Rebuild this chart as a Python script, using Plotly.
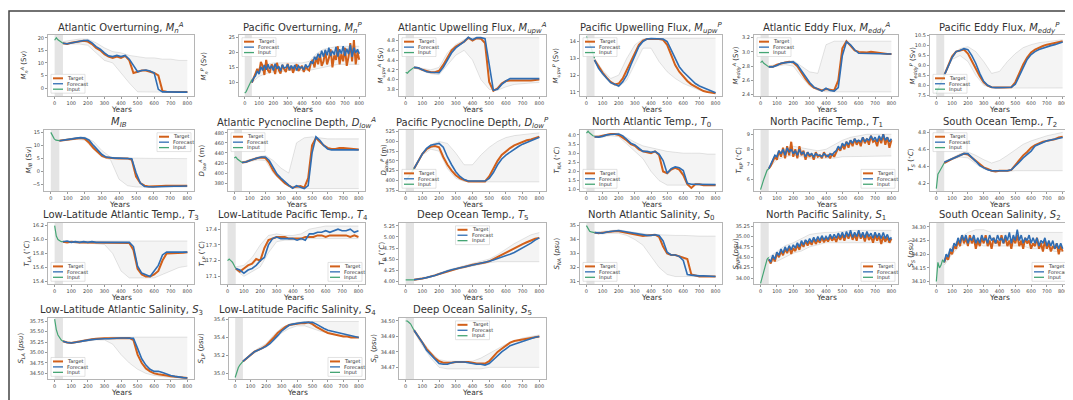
import plotly.graph_objects as go

W, H = 1073, 400

# ---------------- data ----------------
YEARS = list(range(50, 801, 25))                 # target / forecast sample years
YEARS_FINE = [50 + 12.5 * k for k in range(61)]  # finer sampling for noisy series
INPUT_YEARS = [0, 10, 20, 30, 40, 50]            # input window
ENS_YEARS = list(range(50, 801, 50))             # ensemble envelope years

amoc_a_input = [19.0, 20.0, 19.2, 18.6, 18.1, 17.8]
amoc_a_target = [17.8, 17.5, 18.0, 18.2, 18.5, 18.8, 18.5, 17.5, 16.0, 15.0, 13.5, 12.5, 12.0, 12.5, 12.0, 12.8, 11.0, 6.0, 6.5, 7.0, 7.0, 6.5, 6.0, 5.0, -1.2, -1.5, -1.5, -1.5, -1.5, -1.5, -1.6]
amoc_a_forecast = [17.8, 17.6, 17.9, 18.3, 18.6, 18.9, 19.0, 18.0, 16.5, 15.5, 14.0, 12.8, 12.5, 13.0, 12.5, 13.0, 11.5, 9.0, 6.5, 7.0, 7.2, 6.8, 6.0, -0.5, -1.5, -1.5, -1.6, -1.6, -1.6, -1.6, -1.6]
amoc_a_lo = [17.5, 17.5, 17.5, 17.0, 14.0, 11.0, 10.0, 6.0, 2.0, -1.5, -1.6, -1.6, -1.6, -1.6, -1.6, -1.6]
amoc_a_hi = [18.5, 19.0, 19.5, 19.5, 18.0, 16.0, 14.5, 14.0, 13.0, 12.5, 12.0, 12.0, 11.5, 11.5, 11.0, 11.0]

amoc_p_input = [6.5, 7.0, 8.0, 9.0, 10.0, 11.0]
amoc_p_target = [10.0, 11.5, 12.8, 14.5, 13.0, 16.8, 15.5, 12.5, 17.5, 14.0, 13.2, 16.0, 15.0, 12.8, 16.5, 14.2, 13.0, 15.8, 14.5, 13.5, 16.2, 14.0, 15.5, 13.2, 15.0, 16.0, 13.8, 14.8, 15.5, 13.5, 15.2, 14.5, 14.0, 16.5, 17.5, 15.0, 18.5, 16.0, 19.5, 15.5, 17.0, 20.5, 16.0, 18.0, 21.0, 15.0, 19.0, 17.5, 22.0, 16.0, 19.5, 17.0, 21.5, 15.5, 18.5, 23.0, 17.0, 24.0, 16.0, 20.0, 17.5]
amoc_p_forecast = [10.0, 11.5, 12.2, 13.8, 12.8, 15.2, 14.0, 15.8, 14.2, 16.0, 14.5, 15.5, 14.0, 16.2, 14.6, 15.4, 13.8, 15.9, 14.8, 15.0, 16.0, 14.2, 15.6, 14.5, 15.8, 14.0, 15.5, 14.8, 15.2, 14.2, 16.0, 15.0, 15.5, 17.0, 16.2, 18.5, 17.5, 19.5, 18.2, 20.5, 18.5, 20.8, 19.0, 21.5, 18.8, 20.5, 19.2, 21.8, 18.6, 21.0, 19.5, 22.0, 18.8, 21.2, 19.4, 22.5, 18.5, 21.5, 19.8, 21.0, 19.5]
amoc_p_lo = [10.0, 12.0, 13.0, 13.5, 13.5, 14.0, 14.0, 14.0, 14.0, 14.5, 15.0, 15.5, 16.0, 16.0, 16.0, 16.0]
amoc_p_hi = [11.0, 15.0, 16.0, 16.5, 16.5, 16.5, 16.5, 16.5, 17.0, 19.5, 21.0, 21.5, 22.0, 22.0, 22.0, 22.0]

upw_a_input = [4.15, 4.13, 4.17, 4.20, 4.23, 4.25]
upw_a_target = [4.25, 4.24, 4.20, 4.17, 4.15, 4.15, 4.18, 4.30, 4.45, 4.60, 4.68, 4.73, 4.78, 4.86, 4.80, 4.85, 4.84, 4.75, 3.95, 3.77, 3.82, 3.92, 3.97, 3.98, 3.98, 3.97, 3.97, 3.98, 3.98, 3.99, 4.00]
upw_a_forecast = [4.25, 4.24, 4.20, 4.16, 4.15, 4.14, 4.14, 4.25, 4.40, 4.55, 4.65, 4.72, 4.78, 4.87, 4.82, 4.86, 4.86, 4.84, 4.30, 3.78, 3.80, 3.90, 3.97, 4.02, 4.02, 4.02, 4.02, 4.01, 4.01, 4.01, 4.02]
upw_a_lo = [4.24, 4.18, 4.12, 4.10, 4.30, 4.50, 4.60, 4.40, 4.00, 3.80, 3.78, 3.85, 3.90, 3.92, 3.93, 3.94]
upw_a_hi = [4.26, 4.23, 4.20, 4.25, 4.55, 4.72, 4.82, 4.86, 4.86, 4.86, 4.86, 4.86, 4.86, 4.86, 4.86, 4.86]

upw_p_input = [14.3, 14.1, 13.9, 13.6, 13.3, 13.0]
upw_p_target = [12.9, 12.5, 12.15, 11.85, 11.6, 11.45, 11.5, 11.8, 12.3, 12.9, 13.4, 13.8, 14.05, 14.15, 14.15, 14.15, 14.15, 14.1, 13.8, 13.2, 12.6, 12.2, 11.9, 11.65, 11.45, 11.3, 11.15, 11.05, 11.0, 10.95, 10.92]
upw_p_forecast = [12.9, 12.4, 12.1, 11.8, 11.55, 11.45, 11.35, 11.6, 12.0, 12.6, 13.2, 13.7, 14.0, 14.15, 14.18, 14.18, 14.18, 14.15, 14.0, 13.5, 12.9, 12.5, 12.2, 11.95, 11.7, 11.5, 11.35, 11.25, 11.15, 11.05, 10.95]
upw_p_lo = [12.8, 12.0, 11.5, 11.3, 11.7, 12.7, 13.6, 13.6, 12.8, 12.2, 11.8, 11.5, 11.3, 11.1, 11.0, 10.95]
upw_p_hi = [13.0, 12.3, 11.8, 12.0, 13.0, 13.8, 14.15, 14.2, 14.2, 14.2, 14.2, 14.2, 14.2, 14.2, 14.2, 14.2]

eddy_a_input = [2.85, 2.87, 2.84, 2.82, 2.80, 2.79]
eddy_a_target = [2.79, 2.79, 2.82, 2.84, 2.85, 2.86, 2.85, 2.80, 2.70, 2.62, 2.55, 2.50, 2.48, 2.46, 2.48, 2.47, 2.46, 2.60, 3.05, 3.15, 3.08, 3.02, 3.00, 2.99, 2.99, 3.00, 2.99, 2.98, 2.98, 2.97, 2.97]
eddy_a_forecast = [2.79, 2.79, 2.81, 2.84, 2.85, 2.86, 2.86, 2.82, 2.74, 2.65, 2.57, 2.51, 2.48, 2.45, 2.49, 2.46, 2.45, 2.50, 2.95, 3.14, 3.10, 3.03, 2.98, 2.98, 2.97, 2.97, 2.97, 2.97, 2.97, 2.97, 2.97]
eddy_a_lo = [2.78, 2.80, 2.82, 2.80, 2.65, 2.52, 2.46, 2.44, 2.44, 2.44, 2.44, 2.44, 2.44, 2.44, 2.44, 2.44]
eddy_a_hi = [2.80, 2.83, 2.86, 2.88, 2.80, 2.72, 2.70, 3.10, 3.15, 3.15, 3.15, 3.15, 3.15, 3.15, 3.15, 3.15]

eddy_p_input = [7.6, 7.8, 8.0, 8.15, 8.3, 8.5]
eddy_p_target = [8.5, 9.0, 9.45, 9.7, 9.75, 9.8, 9.6, 9.2, 8.8, 8.45, 8.15, 7.98, 7.9, 7.88, 7.88, 7.88, 7.88, 7.9, 8.15, 8.6, 9.05, 9.4, 9.65, 9.8, 9.9, 9.98, 10.05, 10.1, 10.12, 10.18, 10.22]
eddy_p_forecast = [8.5, 9.0, 9.4, 9.7, 9.75, 9.85, 9.8, 9.5, 9.1, 8.6, 8.2, 8.0, 7.9, 7.88, 7.88, 7.88, 7.9, 7.9, 8.05, 8.45, 8.9, 9.3, 9.55, 9.7, 9.8, 9.88, 9.95, 10.0, 10.05, 10.1, 10.18]
eddy_p_lo = [8.5, 9.3, 9.5, 9.2, 8.5, 8.0, 7.88, 7.86, 7.86, 7.86, 7.86, 7.86, 7.86, 7.86, 7.86, 7.86]
eddy_p_hi = [8.6, 9.55, 9.85, 9.95, 9.7, 9.2, 8.6, 8.7, 9.2, 9.6, 9.9, 10.05, 10.15, 10.2, 10.25, 10.3]

mib_input = [15.0, 13.5, 12.5, 12.0, 11.8, 11.8]
mib_target = [11.8, 12.0, 12.2, 12.5, 12.8, 12.8, 12.5, 11.0, 9.0, 7.5, 6.0, 5.3, 5.1, 5.1, 5.0, 5.0, 5.0, 4.5, -2.0, -4.5, -5.5, -5.8, -5.8, -5.7, -5.6, -5.5, -5.5, -5.5, -5.5, -5.5, -5.5]
mib_forecast = [11.8, 12.0, 12.1, 12.5, 12.8, 13.0, 12.8, 12.0, 10.0, 8.2, 6.5, 5.5, 5.2, 5.1, 5.1, 5.0, 5.0, 4.9, -0.5, -4.5, -5.8, -6.0, -6.0, -5.9, -5.8, -5.8, -5.8, -5.7, -5.7, -5.7, -5.6]
mib_lo = [11.8, 12.0, 12.3, 12.0, 8.5, 5.5, 4.5, -3.0, -5.5, -6.0, -6.0, -6.0, -6.0, -6.0, -6.0, -6.0]
mib_hi = [12.0, 12.5, 13.0, 13.2, 11.5, 8.0, 5.5, 5.2, 5.1, 5.0, 5.0, 5.0, 5.0, 4.9, 4.9, 4.9]

dlow_a_input = [430, 432, 428, 425, 422, 421]
dlow_a_target = [421, 422, 425, 428, 430, 431, 430, 420, 405, 395, 388, 380, 375, 371, 373, 374, 371, 390, 455, 470, 462, 455, 450, 448, 448, 450, 450, 449, 448, 448, 447]
dlow_a_forecast = [421, 422, 425, 428, 430, 432, 432, 425, 410, 398, 390, 382, 376, 370, 375, 372, 369, 375, 440, 472, 465, 455, 448, 446, 446, 446, 446, 446, 446, 446, 446]
dlow_a_lo = [420, 423, 426, 425, 400, 385, 373, 369, 369, 369, 369, 369, 369, 369, 369, 369]
dlow_a_hi = [422, 427, 432, 435, 425, 410, 400, 460, 470, 472, 470, 468, 468, 468, 468, 468]

dlow_p_input = [398, 404, 410, 417, 423, 430]
dlow_p_target = [430, 450, 468, 480, 486, 488, 485, 460, 440, 425, 413, 405, 400, 397, 397, 397, 397, 397, 410, 430, 450, 465, 475, 483, 490, 495, 500, 503, 505, 508, 512]
dlow_p_forecast = [430, 450, 468, 482, 490, 493, 495, 485, 460, 440, 422, 410, 402, 398, 398, 398, 398, 398, 405, 420, 440, 455, 465, 473, 480, 487, 493, 498, 502, 506, 511]
dlow_p_lo = [428, 465, 480, 475, 430, 405, 397, 396, 396, 396, 396, 396, 396, 396, 396, 396]
dlow_p_hi = [432, 472, 492, 500, 495, 470, 440, 440, 465, 485, 500, 510, 515, 518, 520, 522]

t0_input = [4.1, 4.2, 4.1, 4.0, 3.95, 3.93]
t0_target = [3.9, 3.9, 3.95, 4.0, 4.05, 4.05, 4.0, 3.85, 3.7, 3.5, 3.4, 3.2, 3.1, 3.05, 3.0, 3.1, 2.9, 2.0, 1.9, 2.1, 2.2, 2.1, 1.8, 1.3, 1.1, 1.3, 1.3, 1.25, 1.25, 1.25, 1.25]
t0_forecast = [3.9, 3.88, 3.92, 4.0, 4.02, 4.05, 4.05, 3.95, 3.75, 3.55, 3.45, 3.25, 3.1, 3.1, 3.05, 3.1, 2.95, 2.6, 1.9, 2.15, 2.25, 2.2, 2.05, 1.35, 1.3, 1.3, 1.3, 1.3, 1.3, 1.3, 1.28]
t0_lo = [3.88, 3.88, 3.95, 3.9, 3.5, 3.1, 2.7, 2.0, 1.5, 1.25, 1.25, 1.25, 1.25, 1.25, 1.25, 1.25]
t0_hi = [3.95, 4.0, 4.08, 4.1, 3.85, 3.6, 3.4, 3.3, 3.2, 3.1, 3.05, 3.0, 3.0, 3.0, 2.95, 2.95]

t1_input = [5.3, 5.7, 6.0, 6.3, 6.6, 6.7]
t1_target = [6.7, 6.9, 7.2, 7.5, 7.3, 7.9, 7.5, 8.1, 7.4, 8.2, 7.6, 8.5, 7.5, 8.0, 7.4, 8.2, 7.6, 7.9, 7.3, 7.8, 7.5, 7.7, 7.3, 7.8, 7.5, 7.6, 7.4, 7.8, 7.5, 7.6, 7.4, 7.7, 7.5, 7.8, 8.1, 7.9, 8.3, 8.0, 8.5, 8.1, 8.6, 8.2, 8.7, 8.3, 8.6, 8.2, 8.8, 8.4, 8.7, 8.3, 8.9, 8.5, 8.6, 8.2, 8.8, 8.4, 9.0, 8.3, 8.8, 8.1, 8.6]
t1_forecast = [6.7, 7.0, 7.3, 7.6, 7.5, 7.9, 7.7, 8.0, 7.6, 8.1, 7.8, 8.0, 7.7, 7.9, 7.6, 8.0, 7.7, 7.8, 7.5, 7.8, 7.6, 7.7, 7.5, 7.7, 7.6, 7.6, 7.5, 7.7, 7.6, 7.5, 7.7, 7.6, 7.8, 7.9, 8.2, 8.0, 8.4, 8.2, 8.5, 8.3, 8.6, 8.4, 8.7, 8.5, 8.6, 8.5, 8.8, 8.5, 8.7, 8.6, 8.9, 8.6, 8.8, 8.5, 8.9, 8.6, 9.0, 8.6, 8.8, 8.5, 8.7]
t1_lo = [6.7, 7.3, 7.5, 7.6, 7.5, 7.4, 7.4, 7.4, 7.4, 7.5, 7.5, 7.55, 7.55, 7.55, 7.55, 7.55]
t1_hi = [6.8, 7.7, 8.0, 8.2, 8.1, 8.0, 7.9, 8.0, 8.3, 8.6, 8.8, 8.9, 9.0, 9.0, 9.0, 9.0]

t2_input = [4.14, 4.31, 4.34, 4.37, 4.40, 4.44]
t2_target = [4.44, 4.47, 4.49, 4.51, 4.53, 4.55, 4.54, 4.50, 4.46, 4.42, 4.39, 4.37, 4.35, 4.34, 4.35, 4.35, 4.35, 4.36, 4.42, 4.48, 4.53, 4.57, 4.62, 4.65, 4.67, 4.69, 4.70, 4.71, 4.72, 4.74, 4.75]
t2_forecast = [4.45, 4.47, 4.49, 4.51, 4.53, 4.55, 4.55, 4.51, 4.46, 4.41, 4.38, 4.36, 4.35, 4.35, 4.35, 4.35, 4.35, 4.36, 4.40, 4.45, 4.50, 4.54, 4.58, 4.64, 4.66, 4.68, 4.70, 4.71, 4.72, 4.73, 4.74]
t2_lo = [4.44, 4.48, 4.51, 4.50, 4.43, 4.37, 4.35, 4.34, 4.34, 4.35, 4.35, 4.35, 4.35, 4.35, 4.35, 4.35]
t2_hi = [4.46, 4.50, 4.55, 4.57, 4.53, 4.48, 4.44, 4.47, 4.53, 4.60, 4.66, 4.70, 4.73, 4.76, 4.78, 4.80]

t3_input = [16.2, 16.05, 16.0, 15.98, 15.97, 15.97]
t3_target = [15.97, 15.96, 15.97, 15.96, 15.96, 15.96, 15.96, 15.96, 15.96, 15.96, 15.96, 15.96, 15.96, 15.96, 15.96, 15.96, 15.95, 15.85, 15.58, 15.50, 15.47, 15.47, 15.50, 15.55, 15.70, 15.80, 15.80, 15.81, 15.81, 15.81, 15.82]
t3_forecast = [15.97, 15.98, 15.96, 15.97, 15.96, 15.97, 15.96, 15.97, 15.96, 15.96, 15.96, 15.96, 15.96, 15.96, 15.96, 15.96, 15.96, 15.90, 15.62, 15.52, 15.50, 15.47, 15.55, 15.63, 15.78, 15.82, 15.82, 15.82, 15.82, 15.82, 15.82]
t3_lo = [15.96, 15.95, 15.95, 15.95, 15.94, 15.93, 15.80, 15.55, 15.45, 15.45, 15.45, 15.45, 15.50, 15.55, 15.60, 15.62]
t3_hi = [15.98, 15.98, 15.98, 15.98, 15.98, 15.98, 15.98, 15.98, 15.98, 15.98, 15.98, 15.98, 15.98, 15.98, 15.98, 15.98]

t4_input = [17.20, 17.21, 17.20, 17.19, 17.17, 17.15]
t4_target = [17.15, 17.13, 17.15, 17.17, 17.18, 17.21, 17.20, 17.28, 17.33, 17.34, 17.35, 17.35, 17.35, 17.34, 17.34, 17.34, 17.34, 17.35, 17.35, 17.35, 17.36, 17.36, 17.35, 17.36, 17.36, 17.36, 17.36, 17.36, 17.35, 17.36, 17.35]
t4_forecast = [17.15, 17.14, 17.12, 17.14, 17.15, 17.17, 17.20, 17.22, 17.30, 17.34, 17.35, 17.34, 17.34, 17.34, 17.34, 17.33, 17.34, 17.33, 17.37, 17.37, 17.38, 17.38, 17.39, 17.38, 17.39, 17.40, 17.39, 17.39, 17.40, 17.38, 17.39]
t4_lo = [17.14, 17.10, 17.13, 17.16, 17.25, 17.32, 17.33, 17.33, 17.33, 17.34, 17.34, 17.34, 17.34, 17.34, 17.34, 17.34]
t4_hi = [17.16, 17.17, 17.22, 17.30, 17.36, 17.37, 17.36, 17.36, 17.37, 17.40, 17.41, 17.42, 17.42, 17.42, 17.42, 17.42]

t5_input = [4.03, 4.03, 4.03, 4.03, 4.03, 4.03]
t5_target = [4.03, 4.04, 4.06, 4.08, 4.10, 4.13, 4.16, 4.19, 4.22, 4.25, 4.28, 4.30, 4.32, 4.35, 4.37, 4.39, 4.40, 4.42, 4.45, 4.50, 4.55, 4.60, 4.65, 4.70, 4.75, 4.80, 4.84, 4.88, 4.92, 4.96, 4.98]
t5_forecast = [4.03, 4.04, 4.06, 4.08, 4.10, 4.13, 4.16, 4.20, 4.23, 4.26, 4.28, 4.30, 4.32, 4.35, 4.36, 4.38, 4.40, 4.43, 4.45, 4.48, 4.51, 4.54, 4.57, 4.61, 4.65, 4.70, 4.75, 4.80, 4.86, 4.93, 4.98]
t5_lo = [4.03, 4.05, 4.09, 4.15, 4.20, 4.26, 4.30, 4.34, 4.38, 4.42, 4.44, 4.44, 4.44, 4.44, 4.44, 4.44]
t5_hi = [4.04, 4.08, 4.12, 4.18, 4.25, 4.30, 4.35, 4.40, 4.45, 4.50, 4.60, 4.72, 4.85, 4.95, 5.05, 5.10]

s0_input = [35.0, 34.8, 34.6, 34.55, 34.5, 34.5]
s0_target = [34.5, 34.45, 34.5, 34.55, 34.55, 34.6, 34.6, 34.55, 34.5, 34.45, 34.35, 34.3, 34.25, 34.3, 34.3, 34.35, 34.2, 33.5, 33.0, 32.9, 32.9, 32.8, 32.7, 32.6, 31.5, 31.4, 31.35, 31.35, 31.35, 31.35, 31.35]
s0_forecast = [34.5, 34.45, 34.45, 34.55, 34.6, 34.6, 34.65, 34.6, 34.55, 34.5, 34.4, 34.35, 34.3, 34.3, 34.3, 34.35, 34.3, 33.9, 33.1, 32.9, 32.9, 32.8, 32.5, 31.5, 31.45, 31.4, 31.4, 31.4, 31.38, 31.38, 31.35]
s0_lo = [34.45, 34.4, 34.45, 34.45, 34.3, 34.0, 33.6, 32.8, 32.0, 31.5, 31.35, 31.35, 31.35, 31.35, 31.35, 31.35]
s0_hi = [34.55, 34.6, 34.65, 34.7, 34.6, 34.5, 34.4, 34.35, 34.35, 34.3, 34.3, 34.3, 34.25, 34.25, 34.25, 34.25]

s1_input = [33.87, 34.0, 34.15, 34.3, 34.45, 34.5]
s1_target = [34.45, 34.35, 34.5, 34.4, 34.6, 34.5, 34.65, 34.55, 34.7, 34.6, 34.75, 34.58, 34.72, 34.65, 34.8, 34.68, 34.85, 34.75, 34.9, 34.78, 34.88, 34.8, 34.95, 34.82, 34.92, 34.85, 34.98, 34.86, 34.95, 34.88, 35.0, 34.9, 34.98, 34.87, 35.02, 34.92, 35.05, 34.9, 35.08, 34.95, 35.1, 34.92, 35.05, 34.9, 35.12, 34.95, 35.05, 34.88, 35.08, 34.92, 35.0, 34.85, 35.05, 34.9, 35.02, 34.82, 35.0, 34.88, 34.98, 34.85, 34.95]
s1_forecast = [34.45, 34.4, 34.55, 34.45, 34.62, 34.55, 34.7, 34.6, 34.75, 34.65, 34.78, 34.68, 34.8, 34.72, 34.85, 34.75, 34.9, 34.8, 34.92, 34.85, 34.95, 34.86, 34.98, 34.88, 35.0, 34.9, 35.02, 34.92, 35.0, 34.93, 35.05, 34.95, 35.05, 34.96, 35.08, 34.98, 35.1, 34.97, 35.12, 35.0, 35.15, 34.98, 35.1, 35.0, 35.15, 34.98, 35.1, 34.97, 35.12, 35.0, 35.08, 34.96, 35.1, 34.98, 35.08, 34.95, 35.1, 34.95, 35.05, 34.92, 34.98]
s1_lo = [34.4, 34.4, 34.5, 34.6, 34.65, 34.75, 34.8, 34.85, 34.85, 34.85, 34.85, 34.85, 34.85, 34.85, 34.85, 34.85]
s1_hi = [34.5, 34.65, 34.78, 34.85, 34.95, 35.05, 35.08, 35.1, 35.1, 35.12, 35.15, 35.15, 35.15, 35.15, 35.15, 35.15]

s2_input = [34.10, 34.17, 34.15, 34.16, 34.18, 34.17]
s2_target = [34.17, 34.19, 34.18, 34.21, 34.2, 34.23, 34.22, 34.25, 34.23, 34.27, 34.24, 34.26, 34.23, 34.27, 34.24, 34.26, 34.22, 34.25, 34.23, 34.26, 34.24, 34.27, 34.23, 34.25, 34.22, 34.26, 34.24, 34.25, 34.23, 34.27, 34.24, 34.26, 34.23, 34.25, 34.22, 34.26, 34.24, 34.27, 34.23, 34.25, 34.22, 34.26, 34.24, 34.25, 34.22, 34.24, 34.23, 34.26, 34.22, 34.24, 34.21, 34.25, 34.22, 34.24, 34.21, 34.23, 34.22, 34.24, 34.2, 34.23, 34.21]
s2_forecast = [34.17, 34.2, 34.19, 34.22, 34.21, 34.24, 34.23, 34.26, 34.24, 34.27, 34.25, 34.27, 34.24, 34.26, 34.25, 34.27, 34.24, 34.26, 34.24, 34.27, 34.25, 34.26, 34.24, 34.27, 34.25, 34.26, 34.24, 34.27, 34.25, 34.26, 34.24, 34.27, 34.25, 34.28, 34.24, 34.27, 34.25, 34.29, 34.25, 34.27, 34.24, 34.26, 34.25, 34.27, 34.24, 34.26, 34.24, 34.26, 34.23, 34.25, 34.24, 34.26, 34.23, 34.25, 34.23, 34.25, 34.22, 34.24, 34.22, 34.24, 34.22]
s2_lo = [34.16, 34.20, 34.23, 34.24, 34.24, 34.23, 34.23, 34.23, 34.23, 34.23, 34.23, 34.22, 34.22, 34.22, 34.21, 34.21]
s2_hi = [34.18, 34.23, 34.26, 34.28, 34.29, 34.29, 34.28, 34.28, 34.28, 34.28, 34.28, 34.28, 34.28, 34.28, 34.28, 34.28]

s3_input = [35.8, 35.55, 35.42, 35.35, 35.30, 35.27]
s3_target = [35.27, 35.24, 35.23, 35.25, 35.27, 35.28, 35.30, 35.32, 35.33, 35.34, 35.34, 35.34, 35.34, 35.35, 35.35, 35.35, 35.35, 35.30, 34.95, 34.75, 34.62, 34.55, 34.50, 34.48, 34.47, 34.45, 34.43, 34.42, 34.41, 34.40, 34.39]
s3_forecast = [35.27, 35.24, 35.23, 35.24, 35.26, 35.28, 35.30, 35.31, 35.32, 35.33, 35.33, 35.33, 35.34, 35.34, 35.35, 35.35, 35.35, 35.34, 35.10, 34.85, 34.70, 34.60, 34.55, 34.55, 34.52, 34.48, 34.45, 34.43, 34.41, 34.40, 34.39]
s3_lo = [35.26, 35.22, 35.25, 35.28, 35.30, 35.30, 35.20, 34.95, 34.75, 34.60, 34.50, 34.45, 34.42, 34.40, 34.39, 34.38]
s3_hi = [35.28, 35.25, 35.28, 35.32, 35.34, 35.36, 35.37, 35.37, 35.37, 35.37, 35.37, 35.37, 35.37, 35.37, 35.37, 35.37]

s4_input = [34.95, 35.02, 35.06, 35.09, 35.11, 35.13]
s4_target = [35.13, 35.17, 35.21, 35.24, 35.26, 35.28, 35.31, 35.35, 35.40, 35.45, 35.49, 35.52, 35.54, 35.55, 35.555, 35.56, 35.56, 35.57, 35.55, 35.52, 35.49, 35.47, 35.45, 35.44, 35.43, 35.42, 35.41, 35.41, 35.40, 35.40, 35.40]
s4_forecast = [35.13, 35.17, 35.21, 35.24, 35.26, 35.28, 35.30, 35.33, 35.37, 35.42, 35.47, 35.51, 35.54, 35.55, 35.56, 35.565, 35.57, 35.57, 35.57, 35.55, 35.52, 35.50, 35.48, 35.47, 35.46, 35.45, 35.44, 35.43, 35.42, 35.41, 35.40]
s4_lo = [35.13, 35.20, 35.25, 35.29, 35.36, 35.45, 35.50, 35.53, 35.53, 35.50, 35.47, 35.45, 35.43, 35.42, 35.41, 35.40]
s4_hi = [35.13, 35.22, 35.28, 35.33, 35.43, 35.51, 35.55, 35.57, 35.58, 35.58, 35.58, 35.58, 35.58, 35.58, 35.58, 35.58]

s5_input = [34.500, 34.500, 34.499, 34.498, 34.496, 34.494]
s5_target = [34.494, 34.490, 34.486, 34.482, 34.479, 34.476, 34.474, 34.473, 34.473, 34.473, 34.4735, 34.4735, 34.4735, 34.4735, 34.473, 34.4725, 34.4725, 34.4725, 34.474, 34.477, 34.480, 34.482, 34.484, 34.486, 34.487, 34.4875, 34.488, 34.4885, 34.489, 34.4895, 34.490]
s5_forecast = [34.494, 34.490, 34.486, 34.481, 34.478, 34.475, 34.4725, 34.472, 34.472, 34.473, 34.4735, 34.4735, 34.4735, 34.473, 34.4725, 34.472, 34.472, 34.4715, 34.4725, 34.475, 34.478, 34.480, 34.482, 34.484, 34.485, 34.486, 34.487, 34.488, 34.4885, 34.4895, 34.490]
s5_lo = [34.493, 34.484, 34.476, 34.470, 34.469, 34.469, 34.469, 34.469, 34.469, 34.470, 34.470, 34.470, 34.470, 34.470, 34.470, 34.470]
s5_hi = [34.495, 34.487, 34.480, 34.475, 34.474, 34.474, 34.474, 34.474, 34.476, 34.479, 34.482, 34.485, 34.487, 34.489, 34.490, 34.491]

TITLES = [
    "Atlantic Overturning, <i>M</i><sub><i>n</i></sub><sup><i>A</i></sup>",
    "Pacific Overturning, <i>M</i><sub><i>n</i></sub><sup><i>P</i></sup>",
    "Atlantic Upwelling Flux, <i>M</i><sub><i>upw</i></sub><sup><i>A</i></sup>",
    "Pacific Upwelling Flux, <i>M</i><sub><i>upw</i></sub><sup><i>P</i></sup>",
    "Atlantic Eddy Flux, <i>M</i><sub><i>eddy</i></sub><sup><i>A</i></sup>",
    "Pacific Eddy Flux, <i>M</i><sub><i>eddy</i></sub><sup><i>P</i></sup>",
    "<i>M</i><sub><i>IB</i></sub>",
    "Atlantic Pycnocline Depth, <i>D</i><sub><i>low</i></sub><sup><i>A</i></sup>",
    "Pacific Pycnocline Depth, <i>D</i><sub><i>low</i></sub><sup><i>P</i></sup>",
    "North Atlantic Temp., <i>T</i><sub>0</sub>",
    "North Pacific Temp., <i>T</i><sub>1</sub>",
    "South Ocean Temp., <i>T</i><sub>2</sub>",
    "Low-Latitude Atlantic Temp., <i>T</i><sub>3</sub>",
    "Low-Latitude Pacific Temp., <i>T</i><sub>4</sub>",
    "Deep Ocean Temp., <i>T</i><sub>5</sub>",
    "North Atlantic Salinity, <i>S</i><sub>0</sub>",
    "North Pacific Salinity, <i>S</i><sub>1</sub>",
    "South Ocean Salinity, <i>S</i><sub>2</sub>",
    "Low-Latitude Atlantic Salinity, <i>S</i><sub>3</sub>",
    "Low-Latitude Pacific Salinity, <i>S</i><sub>4</sub>",
    "Deep Ocean Salinity, <i>S</i><sub>5</sub>",
]

DEG = "(<sup>∘</sup><i>C</i>)"
PSU = "(<i>psu</i>)"
YLABELS = [
    "<i>M</i><sub><i>n</i></sub><sup><i>A</i></sup> (Sv)",
    "<i>M</i><sub><i>n</i></sub><sup><i>P</i></sup> (Sv)",
    "<i>M</i><sub><i>upw</i></sub><sup><i>A</i></sup> (Sv)",
    "<i>M</i><sub><i>upw</i></sub><sup><i>P</i></sup> (Sv)",
    "<i>M</i><sub><i>eddy</i></sub><sup><i>A</i></sup> (Sv)",
    "<i>M</i><sub><i>eddy</i></sub><sup><i>P</i></sup> (Sv)",
    "<i>M</i><sub><i>IB</i></sub> (Sv)",
    "<i>D</i><sub><i>low</i></sub><sup><i>A</i></sup> (m)",
    "<i>D</i><sub><i>low</i></sub><sup><i>P</i></sup> (m)",
    "<i>T</i><sub><i>NA</i></sub> " + DEG,
    "<i>T</i><sub><i>NP</i></sub> " + DEG,
    "<i>T</i><sub><i>S</i></sub> " + DEG,
    "<i>T</i><sub><i>LA</i></sub> " + DEG,
    "<i>T</i><sub><i>LP</i></sub> " + DEG,
    "<i>T</i><sub><i>D</i></sub> " + DEG,
    "<i>S</i><sub><i>NA</i></sub> " + PSU,
    "<i>S</i><sub><i>NP</i></sub> " + PSU,
    "<i>S</i><sub><i>S</i></sub> " + PSU,
    "<i>S</i><sub><i>LA</i></sub> " + PSU,
    "<i>S</i><sub><i>LP</i></sub> " + PSU,
    "<i>S</i><sub><i>D</i></sub> " + PSU,
]

SERIES = [
    (amoc_a_input, amoc_a_target, amoc_a_forecast, amoc_a_lo, amoc_a_hi),
    (amoc_p_input, amoc_p_target, amoc_p_forecast, amoc_p_lo, amoc_p_hi),
    (upw_a_input, upw_a_target, upw_a_forecast, upw_a_lo, upw_a_hi),
    (upw_p_input, upw_p_target, upw_p_forecast, upw_p_lo, upw_p_hi),
    (eddy_a_input, eddy_a_target, eddy_a_forecast, eddy_a_lo, eddy_a_hi),
    (eddy_p_input, eddy_p_target, eddy_p_forecast, eddy_p_lo, eddy_p_hi),
    (mib_input, mib_target, mib_forecast, mib_lo, mib_hi),
    (dlow_a_input, dlow_a_target, dlow_a_forecast, dlow_a_lo, dlow_a_hi),
    (dlow_p_input, dlow_p_target, dlow_p_forecast, dlow_p_lo, dlow_p_hi),
    (t0_input, t0_target, t0_forecast, t0_lo, t0_hi),
    (t1_input, t1_target, t1_forecast, t1_lo, t1_hi),
    (t2_input, t2_target, t2_forecast, t2_lo, t2_hi),
    (t3_input, t3_target, t3_forecast, t3_lo, t3_hi),
    (t4_input, t4_target, t4_forecast, t4_lo, t4_hi),
    (t5_input, t5_target, t5_forecast, t5_lo, t5_hi),
    (s0_input, s0_target, s0_forecast, s0_lo, s0_hi),
    (s1_input, s1_target, s1_forecast, s1_lo, s1_hi),
    (s2_input, s2_target, s2_forecast, s2_lo, s2_hi),
    (s3_input, s3_target, s3_forecast, s3_lo, s3_hi),
    (s4_input, s4_target, s4_forecast, s4_lo, s4_hi),
    (s5_input, s5_target, s5_forecast, s5_lo, s5_hi),
]

# ---------------- styling / layout ----------------
YAX = [
    ([-3.2, 21.2], 5, "d"), ([5.5, 25.8], 5, "d"), ([3.66, 4.92], 0.2, ".1f"),
    ([10.75, 14.4], 1, "d"), ([2.38, 3.24], 0.2, ".1f"), ([7.45, 10.55], 0.5, ".1f"),
    ([-7.6, 16.0], 5, "d"), ([364, 486], 20, "d"), ([372, 530], 25, "d"),
    ([0.92, 4.28], 0.5, ".1f"), ([5.2, 9.3], 1, "d"), ([4.11, 4.83], 0.2, ".1f"),
    ([15.36, 16.24], 0.2, ".1f"), ([17.05, 17.44], 0.1, ".1f"), ([3.93, 5.32], 0.25, ".2f"),
    ([30.8, 35.2], 1, "d"), ([33.85, 35.33], 0.25, ".2f"), ([34.09, 34.315], 0.05, ".2f"),
    ([34.36, 35.83], 0.25, ".2f"), ([34.93, 35.62], 0.2, ".1f"), ([34.4623, 34.502], 0.01, ".2f"),
]
LEG = ["ll", "ul", "ul", "ul", "ul", "ll",
       "ur", "ul", "ll", "ll", "lr", "ul",
       "ll", "lr", "uc", "ll", "lr", "lr",
       "ll", "lr", "uc"]

XDOM = [
    [(40, 186), (231, 357), (391, 538), (572, 714), (746, 890), (922, 1061)],
    [(36, 186), (220, 357), (391, 538), (572, 714), (746, 890), (922, 1061)],
    [(40, 186), (213, 357), (391, 538), (572, 714), (746, 890), (922, 1061)],
    [(40, 186), (221, 357), (391, 538)],
]
YDOM = [(25, 87), (121, 183), (215, 277), (311, 373)]
YLAB_X = [
    [16, 196, 373, 548, 728, 905],
    [21, 194, 376, 549, 731, 903],
    [18, 193, 373, 549, 728, 903],
    [13, 193, 366],
]

C_T = "#d2601a"
C_F = "#2f6db3"
C_I = "#45a574"
FONT = "DejaVu Sans"


def fx(p):
    return p / W


def fy(p):
    return 1 - p / H


fig = go.Figure()
layout = dict(
    width=W, height=H, margin=dict(l=0, r=0, t=0, b=0),
    paper_bgcolor="white", plot_bgcolor="white", showlegend=False,
    font=dict(family=FONT, color="#333"),
)
shapes = []
annotations = []

k = 0
for r, row in enumerate(XDOM):
    for c, (x0, x1) in enumerate(row):
        k += 1
        i = k - 1
        xa = "x" if k == 1 else f"x{k}"
        ya = "y" if k == 1 else f"y{k}"
        xkey = "xaxis" if k == 1 else f"xaxis{k}"
        ykey = "yaxis" if k == 1 else f"yaxis{k}"
        y0p, y1p = YDOM[r]
        yr, dt, tf = YAX[i]
        axcommon = dict(showline=True, mirror=True, linecolor="#b5b5b5", linewidth=1,
                        showgrid=False, zeroline=False, ticks="outside", ticklen=2,
                        tickcolor="#999", tickfont=dict(size=5, color="#444", family=FONT))
        layout[xkey] = dict(domain=[fx(x0), fx(x1)], range=[-40, 840], anchor=ya,
                            tickvals=[0, 100, 200, 300, 400, 500, 600, 700, 800], **axcommon)
        layout[ykey] = dict(domain=[fy(y1p), fy(y0p)], range=yr, anchor=xa, dtick=dt,
                            tick0=0, tickformat=tf, **axcommon)

        inp, tgt, fc, lo, hi = SERIES[i]
        xt = YEARS_FINE if len(tgt) == len(YEARS_FINE) else YEARS
        xf = YEARS_FINE if len(fc) == len(YEARS_FINE) else YEARS
        # ensemble envelope
        fig.add_trace(go.Scatter(x=ENS_YEARS + ENS_YEARS[::-1], y=hi + lo[::-1],
                                 fill="toself", fillcolor="rgba(0,0,0,0.045)",
                                 line=dict(width=0), mode="lines", xaxis=xa, yaxis=ya,
                                 hoverinfo="skip"))
        for env in (lo, hi):
            fig.add_trace(go.Scatter(x=ENS_YEARS, y=env, mode="lines",
                                     line=dict(color="rgba(0,0,0,0.13)", width=0.8),
                                     xaxis=xa, yaxis=ya, hoverinfo="skip"))
        fig.add_trace(go.Scatter(x=xt, y=tgt, mode="lines", name="Target",
                                 line=dict(color=C_T, width=2), xaxis=xa, yaxis=ya))
        fig.add_trace(go.Scatter(x=xf, y=fc, mode="lines", name="Forecast",
                                 line=dict(color=C_F, width=1.6), xaxis=xa, yaxis=ya))
        fig.add_trace(go.Scatter(x=INPUT_YEARS, y=inp, mode="lines", name="Input",
                                 line=dict(color=C_I, width=1.2), xaxis=xa, yaxis=ya))

        # shaded input window
        shapes.append(dict(type="rect", xref=xa, yref=f"{ya} domain", x0=0, x1=50, y0=0, y1=1,
                           fillcolor="#e4e4e4", line=dict(width=0), layer="below"))

        # title, x label, y label
        xm = (x0 + x1) / 2
        annotations.append(dict(text=TITLES[i], xref="paper", yref="paper", x=fx(xm),
                                y=fy(y0p - 7), xanchor="center", yanchor="middle",
                                showarrow=False, font=dict(size=10, color="#333", family=FONT)))
        annotations.append(dict(text="Years", xref="paper", yref="paper", x=fx(xm),
                                y=fy(y1p + 13), xanchor="center", yanchor="middle",
                                showarrow=False, font=dict(size=7.5, color="#333", family=FONT)))
        annotations.append(dict(text=YLABELS[i], xref="paper", yref="paper",
                                x=fx(YLAB_X[r][c]), y=fy((y0p + y1p) / 2), textangle=-90,
                                xanchor="center", yanchor="middle", showarrow=False,
                                font=dict(size=7, color="#333", family=FONT)))

        # legend box
        lw, lh = 34, 19
        pos = LEG[i]
        if pos == "ul":
            bx, by = x0 + 3, y0p + 3
        elif pos == "ll":
            bx, by = x0 + 3, y1p - 3 - lh
        elif pos == "ur":
            bx, by = x1 - 3 - lw, y0p + 3
        elif pos == "lr":
            bx, by = x1 - 3 - lw, y1p - 3 - lh
        else:
            bx, by = xm - lw / 2, y0p + 3
        shapes.append(dict(type="rect", xref="paper", yref="paper", x0=fx(bx), x1=fx(bx + lw),
                           y0=fy(by + lh), y1=fy(by), fillcolor="rgba(255,255,255,0.85)",
                           line=dict(color="#d0d0d0", width=0.6), layer="above"))
        for j, (lab, col, wd) in enumerate([("Target", C_T, 2), ("Forecast", C_F, 1.3),
                                            ("Input", C_I, 1.3)]):
            ly = by + 4 + j * 5.5
            shapes.append(dict(type="line", xref="paper", yref="paper", x0=fx(bx + 2),
                               x1=fx(bx + 12), y0=fy(ly), y1=fy(ly),
                               line=dict(color=col, width=wd), layer="above"))
            annotations.append(dict(text=lab, xref="paper", yref="paper", x=fx(bx + 14),
                                    y=fy(ly), xanchor="left", yanchor="middle", showarrow=False,
                                    font=dict(size=5, color="#333", family=FONT)))

# figure frame
shapes.append(dict(type="rect", xref="paper", yref="paper", x0=fx(1), x1=fx(1071),
                   y0=fy(398), y1=fy(1), line=dict(color="#444", width=1.5),
                   fillcolor="rgba(0,0,0,0)", layer="above"))

layout["shapes"] = shapes
layout["annotations"] = annotations
fig.update_layout(**layout)
fig.write_html("out.html")
